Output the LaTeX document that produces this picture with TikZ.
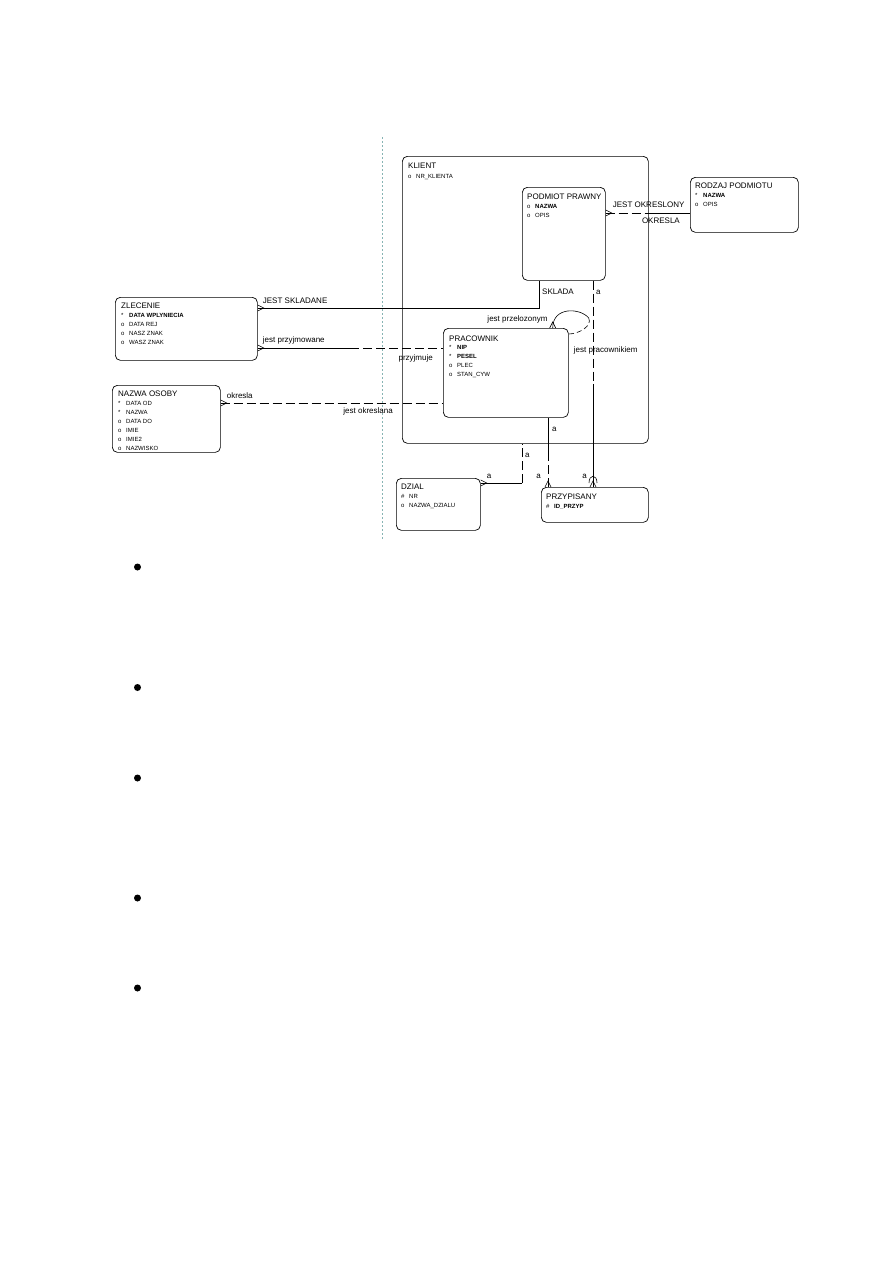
\documentclass[tikz,border=0pt]{standalone}
\usepackage{fontspec}
\setmainfont{Liberation Sans}
\usetikzlibrary{calc,positioning}

\newcommand{\attr}[2]{\makebox[8pt][l]{#1}#2}
\newcommand{\crowfoot}[3]{%
  \draw[rel] ($(#1)+(#3*3,#2*3)$) -- ($(#1)+(#2*6,#3*6)$) -- ($(#1)-(#3*3,#2*3)$);}

\tikzset{
  entity/.style={draw, rounded corners=5pt, line width=0.7pt, inner sep=0pt, anchor=north west},
  etitle/.style={font=\fontsize{8}{9}\selectfont, inner sep=0pt, anchor=north west},
  eattr/.style={font=\fontsize{6}{9}\selectfont, inner sep=0pt, anchor=north west, align=left},
  rel/.style={line width=0.6pt},
  opt/.style={rel, dash pattern=on 9pt off 4pt},
  rlabel/.style={font=\fontsize{8}{9}\selectfont, inner sep=0pt},
  divider/.style={line width=0.6pt, draw={rgb,255:red,135;green,180;blue,180}, dash pattern=on 2pt off 2pt},
  bullet/.style={circle, fill=black, inner sep=0pt, minimum size=7pt}
}

\begin{document}
\begin{tikzpicture}[x=1pt, y=-1pt]
    \useasboundingbox (0,0) rectangle (893,1263);

    % dividing line
    \draw[divider] (382,137) -- (382,540);

    % entities
    \node[entity, minimum width=246, minimum height=287] (klient) at (402,156) {};
    \node[entity, minimum width=83, minimum height=93] (podmiot) at (522,187) {};
    \node[entity, minimum width=108, minimum height=55] (rodzaj) at (690,177) {};
    \node[entity, minimum width=142, minimum height=63] (zlecenie) at (115,297) {};
    \node[entity, minimum width=125, minimum height=89] (pracownik) at (443,328) {};
    \node[entity, minimum width=108, minimum height=67] (osoba) at (112,385) {};
    \node[entity, minimum width=84, minimum height=52] (dzial) at (396,478) {};
    \node[entity, minimum width=107, minimum height=35] (przypisany) at (541,487) {};

    % entity names and attributes
    \node[etitle] (klientT) at ($(klient.north west)+(6,7)$) {KLIENT};
    \node[eattr] (klientA) at ($(klientT.south west)+(0,5)$) {\attr{o}{NR\_KLIENTA}};

    \node[etitle] (podmiotT) at ($(podmiot.north west)+(5,7)$) {PODMIOT PRAWNY};
    \node[eattr] (podmiotA) at ($(podmiotT.south west)+(0,4)$)
        {\attr{o}{\textbf{NAZWA}}\\\attr{o}{OPIS}};

    \node[etitle] (rodzajT) at ($(rodzaj.north west)+(5,6)$) {RODZAJ PODMIOTU};
    \node[eattr] (rodzajA) at ($(rodzajT.south west)+(0,4)$)
        {\attr{*}{\textbf{NAZWA}}\\\attr{o}{OPIS}};

    \node[etitle] (zlecenieT) at ($(zlecenie.north west)+(6,6)$) {ZLECENIE};
    \node[eattr] (zlecenieA) at ($(zlecenieT.south west)+(0,4)$)
        {\attr{*}{\textbf{DATA WPLYNIECIA}}\\\attr{o}{DATA REJ}\\\attr{o}{NASZ ZNAK}\\\attr{o}{WASZ ZNAK}};

    \node[etitle] (pracownikT) at ($(pracownik.north west)+(6,8)$) {PRACOWNIK};
    \node[eattr] (pracownikA) at ($(pracownikT.south west)+(0,3)$)
        {\attr{*}{\textbf{NIP}}\\\attr{*}{\textbf{PESEL}}\\\attr{o}{PLEC}\\\attr{o}{STAN\_CYW}};

    \node[etitle] (osobaT) at ($(osoba.north west)+(6,6)$) {NAZWA OSOBY};
    \node[eattr] (osobaA) at ($(osobaT.south west)+(0,4)$)
        {\attr{*}{DATA OD}\\\attr{*}{NAZWA}\\\attr{o}{DATA DO}\\\attr{o}{IMIE}\\\attr{o}{IMIE2}\\\attr{o}{NAZWISKO}};

    \node[etitle] (dzialT) at ($(dzial.north west)+(5,6)$) {DZIAL};
    \node[eattr] (dzialA) at ($(dzialT.south west)+(0,4)$)
        {\attr{\#}{NR}\\\attr{o}{NAZWA\_DZIALU}};

    \node[etitle] (przypisanyT) at ($(przypisany.north west)+(5,7)$) {PRZYPISANY};
    \node[eattr] (przypisanyA) at ($(przypisanyT.south west)+(0,4)$)
        {\attr{\#}{\textbf{ID\_PRZYP}}};

    % PODMIOT PRAWNY -- RODZAJ PODMIOTU
    \coordinate (okrA) at ($(podmiot.north east)+(0,26)$);
    \coordinate (okrB) at (okrA -| rodzaj.west);
    \coordinate (okrM) at ($(okrA)!0.5!(okrB)$);
    \draw[opt] (okrA) -- (okrM);
    \draw[rel] (okrM) -- (okrB);
    \crowfoot{okrA}{1}{0}
    \node[rlabel, anchor=base west] (okrL1) at ($(okrA)+(7,-6)$) {JEST OKRESLONY};
    \node[rlabel, anchor=north east] (okrL2) at ($(okrB)+(-10,5)$) {OKRESLA};

    % ZLECENIE -- PODMIOT PRAWNY
    \coordinate (sklA) at ($(zlecenie.north east)+(0,11)$);
    \coordinate (sklB) at ($(podmiot.south west)+(17,0)$);
    \draw[rel] (sklA) -| (sklB);
    \crowfoot{sklA}{1}{0}
    \node[rlabel, anchor=base west] (sklL1) at ($(sklA)+(5,-5)$) {JEST SKLADANE};
    \node[rlabel, anchor=north west] (sklL2) at ($(sklB)+(3,8)$) {SKLADA};

    % ZLECENIE -- PRACOWNIK
    \coordinate (przA) at ($(zlecenie.north east)+(0,51)$);
    \coordinate (przB) at (przA -| pracownik.west);
    \coordinate (przM) at ($(przA)!0.5!(przB)$);
    \draw[rel] (przA) -- (przM);
    \draw[opt] (przM) -- (przB);
    \crowfoot{przA}{1}{0}
    \node[rlabel, anchor=base west] (przL1) at ($(przA)+(5,-6)$) {jest przyjmowane};
    \node[rlabel, anchor=base east] (przL2) at ($(przB)+(-10,12)$) {przyjmuje};

    % NAZWA OSOBY -- PRACOWNIK
    \coordinate (okeA) at ($(osoba.north east)+(0,18)$);
    \coordinate (okeB) at (okeA -| pracownik.west);
    \draw[opt] (okeA) -- (okeB);
    \crowfoot{okeA}{1}{0}
    \node[rlabel, anchor=base west] (okeL1) at ($(okeA)+(6,-5)$) {okresla};
    \node[rlabel, anchor=base east] (okeL2) at ($(okeB)+(-50,10)$) {jest okreslana};

    % PRACOWNIK -- PRACOWNIK
    \coordinate (selfA) at ($(pracownik.north east)+(-16,0)$);
    \coordinate (selfB) at ($(pracownik.north east)+(0,6)$);
    \coordinate (selfM) at ($(pracownik.north east)+(20,-10)$);
    \draw[rel] (selfA) .. controls +(0,-22) and +(-8,-10) .. (selfM);
    \draw[rel, dash pattern=on 5pt off 3pt] (selfM) .. controls +(4,8) and +(10,0) .. (selfB);
    \crowfoot{selfA}{0}{-1}
    \node[rlabel, anchor=base east] (selfL1) at ($(selfA)+(-5,-7)$) {jest przelozonym};
    \node[rlabel, anchor=base west] (selfL2) at ($(selfB)+(5,18)$) {jest pracownikiem};

    % DZIAL -- KLIENT
    \coordinate (dzA) at ($(dzial.north east)+(0,5)$);
    \coordinate (dzB) at ($(klient.south west)+(120,0)$);
    \coordinate (dzC) at (dzA -| dzB);
    \draw[rel] (dzA) -- (dzC);
    \draw[opt] (dzC) -- (dzB);
    \crowfoot{dzA}{1}{0}
    \node[rlabel, anchor=base west] (dzL1) at ($(dzB)+(3,14)$) {a};
    \node[rlabel, anchor=base west] (dzL2) at ($(dzA)+(6,-5)$) {a};

    % PRACOWNIK -- PRZYPISANY
    \coordinate (ppA) at ($(pracownik.south west)+(105,0)$);
    \coordinate (ppB) at (ppA |- przypisany.north);
    \coordinate (ppM) at ($(ppA)!0.5!(ppB)$);
    \draw[rel] (ppA) -- (ppM);
    \draw[opt, line width=0.9pt] (ppM) -- (ppB);
    \crowfoot{ppB}{0}{-1}
    \node[rlabel, anchor=base west] (ppL1) at ($(ppA)+(4,14)$) {a};
    \node[rlabel, anchor=base east] (ppL2) at ($(ppB)+(-7,-9)$) {a};

    % PODMIOT PRAWNY -- PRZYPISANY
    \coordinate (pdA) at ($(podmiot.south west)+(71,0)$);
    \coordinate (pdB) at (pdA |- przypisany.north);
    \coordinate (pdM) at ($(pdA)!0.5!(pdB)$);
    \draw[opt] (pdA) -- (pdM);
    \draw[rel] (pdM) -- (pdB);
    \crowfoot{pdB}{0}{-1}
    \draw[rel] ($(pdB)+(-4,-4)$) .. controls +(0,-9) and +(0,-9) .. ($(pdB)+(4,-4)$);
    \node[rlabel, anchor=base west] (pdL1) at ($(pdA)+(3,14)$) {a};
    \node[rlabel, anchor=base east] (pdL2) at ($(pdB)+(-6,-9)$) {a};

    % bullets
    \node[bullet] (b1) at (137.5,567) {};
    \node[bullet] (b2) at (137.5,687.5) {};
    \node[bullet] (b3) at (137.5,778) {};
    \node[bullet] (b4) at (137.5,898) {};
    \node[bullet] (b5) at (137.5,988) {};
\end{tikzpicture}
\end{document}
